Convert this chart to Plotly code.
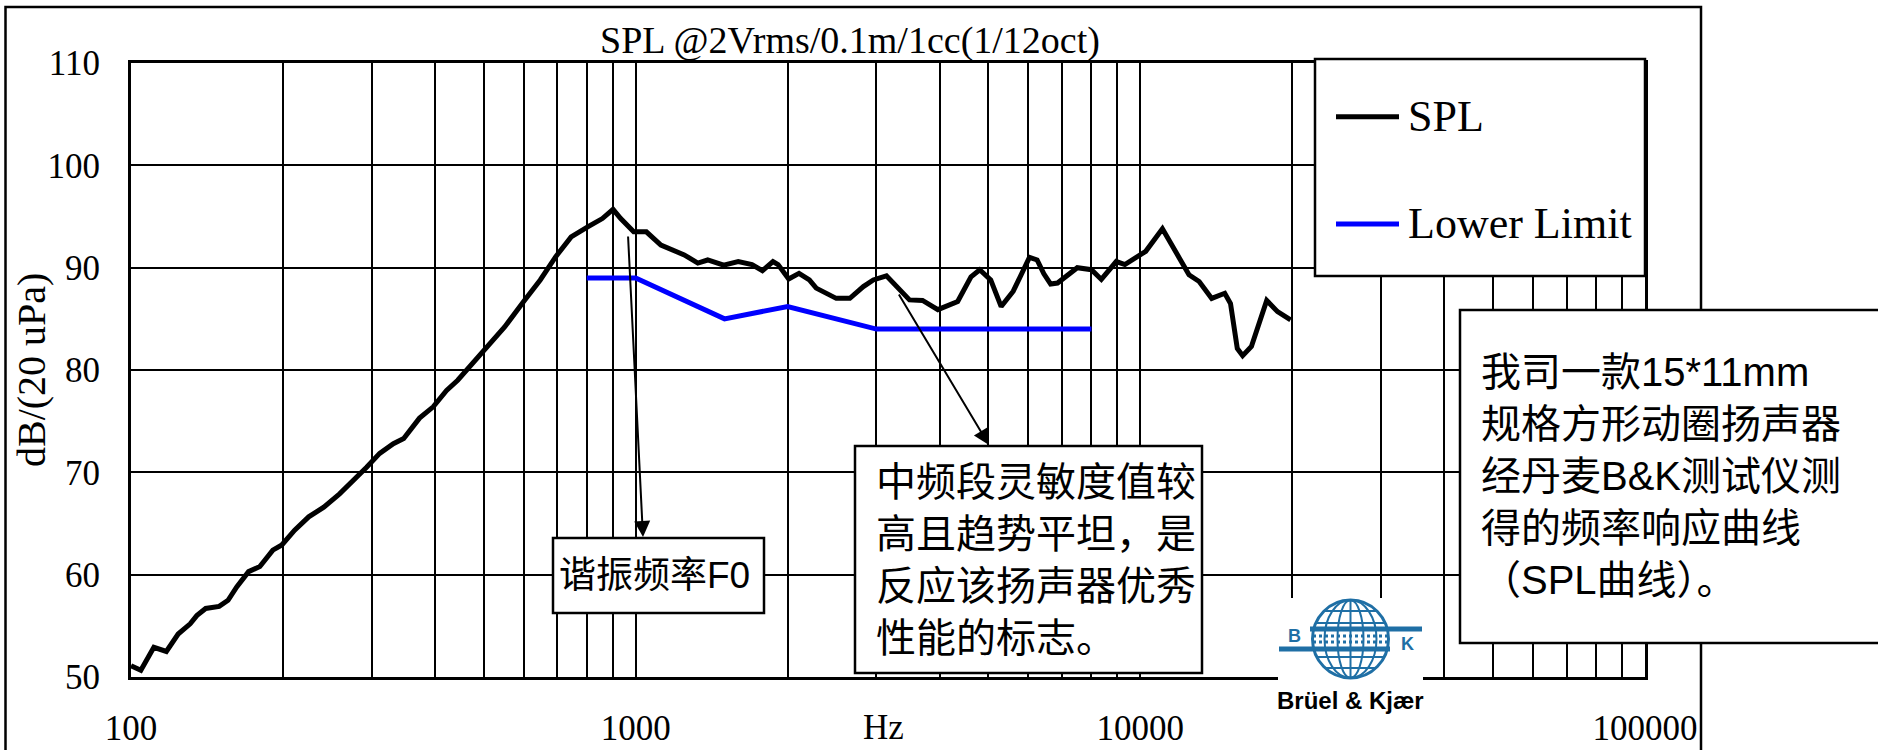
import plotly.graph_objects as go
import math

# ---------------- data ----------------
spl_freq = [100, 104.6, 111, 117.5, 124, 131, 135, 140.6, 149.5, 155.7, 162, 171, 180, 191, 199,
            211, 225, 241, 259, 275, 293, 311, 331, 347, 373, 397, 422, 444, 462, 502, 550, 603,
            647, 695, 745, 805, 859, 902, 934, 991, 1050, 1122, 1248, 1328, 1389, 1494, 1597,
            1700, 1783, 1871, 1915, 2010, 2107, 2209, 2279, 2497, 2657, 2826, 2957, 3140, 3289,
            3488, 3702, 3970, 4346, 4618, 4806, 5053, 5300, 5600, 6030, 6244, 6440, 6641, 6853,
            7500, 8000, 8370, 8960, 9320, 10250, 11060, 11930, 12485, 13079, 13850, 14700,
            15090, 15565, 15950, 16600, 17040, 17800, 18700, 19850]
spl_db = [51.1, 50.65, 52.9, 52.5, 54.2, 55.2, 56.0, 56.7, 56.9, 57.5, 58.8, 60.3, 60.8, 62.4, 62.9,
          64.35, 65.65, 66.6, 67.9, 69.1, 70.5, 71.85, 72.8, 73.3, 75.3, 76.4, 78.0, 79.0, 80.0, 82.0,
          84.2, 86.85, 88.8, 91.1, 93.0, 94.0, 94.8, 95.7, 94.8, 93.5, 93.5, 92.2, 91.25, 90.45,
          90.75, 90.25, 90.6, 90.3, 89.7, 90.6, 90.3, 88.9, 89.45, 88.8, 88.0, 87.0, 87.0, 88.15,
          88.8, 89.2, 88.15, 86.85, 86.8, 85.9, 86.7, 89.1, 89.8, 88.8, 86.2, 87.7, 91.0, 90.75,
          89.4, 88.4, 88.5, 90.0, 89.8, 88.85, 90.6, 90.3, 91.6, 93.8, 91.0, 89.3, 88.65, 87.0,
          87.5, 86.5, 82.1, 81.4, 82.3, 84.1, 86.8, 85.7, 84.9]

limit_freq = [800, 1000, 1500, 2000, 3000, 8000]
limit_db = [89, 89, 85, 86.2, 84, 84]

x_tickvals = [m * 10 ** e for e in (2, 3, 4) for m in range(1, 10)] + [100000]
x_ticktext = [str(v) if v in (100, 1000, 10000, 100000) else "" for v in x_tickvals]
y_tickvals = [50, 60, 70, 80, 90, 100, 110]

title_text = "SPL @2Vrms/0.1m/1cc(1/12oct)"
y_title = "dB/(20 uPa)"
x_title = "Hz"
legend_names = ["SPL", "Lower Limit"]
note_f0 = "谐振频率F0"
note_mid = "中频段灵敏度值较<br>高且趋势平坦，是<br>反应该扬声器优秀<br>性能的标志。"
note_right = "我司一款15*11mm<br>规格方形动圈扬声器<br>经丹麦B&K测试仪测<br>得的频率响应曲线<br>（SPL曲线）。"

# ---------------- geometry ----------------
W, H = 1878, 750
L, R, T, B = 131, 233, 63, 73
PW, PH = W - L - R, H - T - B


def px(x):
    return (x - L) / PW


def py(y):
    return (H - B - y) / PH


SERIF = "Liberation Serif"
CJK = "Liberation Sans, Noto Sans CJK SC"
BLUE_LOGO = "#1f6fa5"

fig = go.Figure()
fig.add_trace(go.Scatter(x=spl_freq, y=spl_db, mode="lines", name=legend_names[0],
                         line=dict(color="black", width=5), showlegend=False))
fig.add_trace(go.Scatter(x=limit_freq, y=limit_db, mode="lines", name=legend_names[1],
                         line=dict(color="#0000ff", width=5), showlegend=False))

shapes = []
annotations = []


def rect(x0, y0, x1, y1, fill="white", lw=2.5, lc="black"):
    shapes.append(dict(type="rect", xref="paper", yref="paper", x0=px(x0), x1=px(x1),
                       y0=py(y1), y1=py(y0), fillcolor=fill,
                       line=dict(color=lc, width=lw), layer="above"))


def seg(x0, y0, x1, y1, color="black", width=2, dash="solid"):
    shapes.append(dict(type="line", xref="paper", yref="paper", x0=px(x0), x1=px(x1),
                       y0=py(y0), y1=py(y1), line=dict(color=color, width=width, dash=dash),
                       layer="above"))


def text(x, y, s, size, family=SERIF, xanchor="left", color="black", angle=0, bold=False):
    annotations.append(dict(xref="paper", yref="paper", x=px(x), y=py(y), text=s,
                            showarrow=False, xanchor=xanchor, yanchor="middle",
                            align="left", textangle=angle,
                            font=dict(family=family, size=size, color=color,
                                      weight="bold" if bold else "normal")))


# outer frame
shapes.append(dict(type="rect", xref="paper", yref="paper", x0=px(5.5), x1=px(1701),
                   y0=py(770), y1=py(7), fillcolor="rgba(0,0,0,0)",
                   line=dict(color="black", width=2.5), layer="above"))

# legend box
rect(1315, 59, 1645, 276)
seg(1336, 116.7, 1399, 116.7, "black", 5)
seg(1336, 224, 1399, 224, "#0000ff", 5)
text(1406, 116, legend_names[0], 44)
text(1406, 223, legend_names[1], 44)

# note boxes
rect(553, 538, 764, 613)
text(557, 575, note_f0, 37, CJK)
rect(855, 446, 1202, 673)
text(874, 560, note_mid, 40, CJK)
rect(1460, 310, 1890, 643)
text(1479, 476, note_right, 40, CJK)

# arrows
annotations.append(dict(xref="paper", yref="paper", x=px(643), y=py(537), ax=628 - 643,
                        ay=235 - 537, text="", showarrow=True, arrowhead=2, arrowsize=1.6,
                        arrowwidth=2, arrowcolor="black"))
annotations.append(dict(xref="paper", yref="paper", x=px(989), y=py(445), ax=898 - 989,
                        ay=293 - 445, text="", showarrow=True, arrowhead=2, arrowsize=1.6,
                        arrowwidth=2, arrowcolor="black"))

# titles
text(850, 41, title_text, 38, xanchor="center")
text(31, 370, y_title, 40, xanchor="center", angle=-90)
text(883, 727, x_title, 35, xanchor="center")

# logo
rect(1278, 598, 1423, 722, fill="white", lw=0, lc="white")
cx, cy, rx, ry = 1350.5, 639, 38, 39
shapes.append(dict(type="circle", xref="paper", yref="paper", x0=px(cx - rx), x1=px(cx + rx),
                   y0=py(cy + ry), y1=py(cy - ry), line=dict(color=BLUE_LOGO, width=3),
                   layer="above"))
for k in (26, 13):
    shapes.append(dict(type="circle", xref="paper", yref="paper", x0=px(cx - k), x1=px(cx + k),
                       y0=py(cy + ry), y1=py(cy - ry), line=dict(color=BLUE_LOGO, width=2),
                       layer="above"))
seg(cx, cy - ry, cx, cy + ry, BLUE_LOGO, 2)
for dy in (-28, -16, 18, 29):
    hw = rx * math.sqrt(max(0.0, 1 - (dy / ry) ** 2))
    seg(cx - hw, cy + dy, cx + hw, cy + dy, BLUE_LOGO, 2)
seg(1310, 629, 1422, 629, BLUE_LOGO, 5)
seg(1313, 636, 1388, 636, BLUE_LOGO, 3, "dot")
seg(1313, 642, 1388, 642, BLUE_LOGO, 3, "dot")
seg(1279, 649, 1390, 649, BLUE_LOGO, 5)
text(1294, 636, "B", 18, "Liberation Sans", xanchor="center", color=BLUE_LOGO, bold=True)
text(1407, 644, "K", 18, "Liberation Sans", xanchor="center", color=BLUE_LOGO, bold=True)
text(1350, 700, "Brüel &amp; Kjær", 24, "Liberation Sans", xanchor="center", bold=True)

axis_common = dict(showgrid=True, gridcolor="black", gridwidth=2.2, showline=True,
                   linecolor="black", linewidth=3, mirror=True, ticks="", zeroline=False,
                   automargin=False,
                   tickfont=dict(family=SERIF, size=35, color="black"))

fig.update_layout(
    width=W, height=H, autosize=False,
    margin=dict(l=L, r=R, t=T, b=B, pad=0, autoexpand=False),
    paper_bgcolor="white", plot_bgcolor="white",
    xaxis=dict(type="log", range=[2, 5], tickmode="array", tickvals=x_tickvals,
               ticktext=x_ticktext, ticklabelstandoff=18, **axis_common),
    yaxis=dict(range=[50, 110], tickmode="array", tickvals=y_tickvals,
               ticklabelstandoff=21, **axis_common),
    shapes=shapes, annotations=annotations, showlegend=False,
)

fig.write_html("out.html", config={"displayModeBar": False},
               post_script="document.body.style.margin='0px';"
                           "document.body.style.overflow='hidden';")
